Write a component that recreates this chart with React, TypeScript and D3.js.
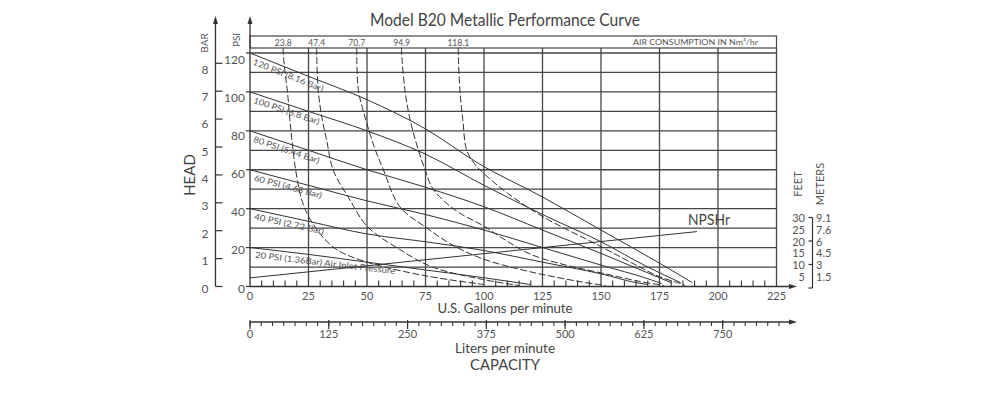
import React from 'react';
import * as d3 from 'd3';

const W = 1000;
const H = 396;
const FONT = 'Lato, "Open Sans", sans-serif';

// axis ticks / labels
const gpmTicks = [0, 25, 50, 75, 100, 125, 150, 175, 200, 225];
const lpmTicks = [0, 125, 250, 375, 500, 625, 750];
const psiTicks = [0, 20, 40, 60, 80, 100, 120];
const barTicks = [0, 1, 2, 3, 4, 5, 6, 7, 8];
const feetLabels = [30, 25, 20, 15, 10, 5];
const meterLabels = ['9.1', '7.6', '6', '4.5', '3', '1.5'];
const feetBracketTicks = [30, 20, 10, 0];

// air inlet pressure curves: [gpm, psi]
const psi120 = [[0, 120], [25, 108], [50, 96], [75, 81], [98, 63], [125, 46], [150, 29], [175, 12], [189, 2]];
const psi100 = [[0, 100], [25, 90], [50, 80], [75, 68], [100, 52], [125, 37], [150, 23], [170, 10], [184, 2]];
const psi80 = [[0, 80], [25, 70], [50, 60], [75, 51], [100, 41], [125, 29], [150, 17], [170, 7], [180, 2]];
const psi60 = [[0, 60], [25, 52], [50, 44], [75, 37], [100, 29], [125, 20], [150, 11], [170, 4], [176, 1.5]];
const psi40 = [[0, 40], [25, 33.5], [50, 27], [75, 23], [100, 18.5], [125, 12.5], [150, 6.5], [165, 2], [170, 1]];
const psi20 = [[0, 20], [25, 16.5], [50, 12.5], [75, 8.5], [100, 4.5], [120, 1]];
const pressureLabels = [
  '120 PSI (8.16 Bar)',
  '100 PSI (6.8 Bar)',
  '80 PSI (5.44 Bar)',
  '60 PSI (4.68 Bar)',
  '40 PSI (2.72 Bar)',
  '20 PSI (1.36Bar) Air Inlet Pressure',
];
const labelLengths = [75, 69, 69, 70, 71, 141];

// air consumption curves (Nm3/hr): [gpm, psi]
const airLabels = ['23.8', '47.4', '70.7', '94.9', '118.1'];
const air238 = [[14.2, 122.6], [14.2, 120], [15, 110], [16, 100], [17.5, 80], [19.5, 60], [22, 45], [25, 36], [30, 27], [37, 19], [50, 12.5], [75, 5.5], [100, 1]];
const air474 = [[28.5, 122.6], [28.5, 120], [29.2, 100], [31, 85], [32.8, 75], [35.5, 60], [42.7, 44.5], [50, 31], [64, 19], [78, 10], [100, 3.5], [115, 0.5]];
const air707 = [[45.6, 122.6], [45.6, 120], [46.3, 101], [48, 92], [49.9, 84], [53, 72], [57, 60], [64, 41], [75, 30.5], [87, 21], [100, 14], [120, 7.5], [141, 2.5], [152, 0.5]];
const air949 = [[64.8, 122.6], [64.8, 120], [66.2, 101], [68, 88], [69.8, 79], [72, 70], [74.8, 60], [78.3, 50], [88, 39], [100, 31], [107, 25.5], [120, 16.5], [135, 11], [150, 7], [167, 2.5], [177, 0.5]];
const air1181 = [[89, 122.6], [89, 120], [89.7, 101], [91, 85], [92.6, 70], [96, 63], [100, 58], [110, 48], [125, 36], [150, 20.5], [165, 11], [175, 5], [184, 1.5], [186, 0.5]];

// NPSHr: [gpm, feet]
const npshr = [[0, 4.3], [191, 24]];

const x = d3.scaleLinear().domain([0, 225]).range([250, 776.5]);
const y = d3.scaleLinear().domain([0, 120]).range([286.5, 53]);
const psiLabelY = d3.scaleLinear().domain([0, 120]).range([288, 59]);
const barY = d3.scaleLinear().domain([0, 8]).range([286.5, 63.3]);
const barLabelY = d3.scaleLinear().domain([0, 8]).range([288, 69]);
const lpm = d3.scaleLinear().domain([0, 750]).range([250, 722.7]);
const feetY = d3.scaleLinear().domain([0, 30]).range([288, 217.5]);

const pressureLine = d3
  .line<number[]>()
  .x((d) => x(d[0]))
  .y((d) => y(d[1]))
  .curve(d3.curveMonotoneX);

const airLine = d3
  .line<number[]>()
  .x((d) => x(d[0]))
  .y((d) => y(d[1]))
  .curve(d3.curveCatmullRom.alpha(0.5));

const npshLine = d3
  .line<number[]>()
  .x((d) => x(d[0]))
  .y((d) => feetY(d[1]));

const GRID = '#454545';
const INK = '#333';
const TXT = '#555';

const Arrow = ({ tipX, tipY, dir }: { tipX: number; tipY: number; dir: 'up' | 'right' }) => {
  const pts =
    dir === 'up'
      ? [[tipX, tipY], [tipX - 2.5, tipY + 8], [tipX + 2.5, tipY + 8]]
      : [[tipX, tipY], [tipX - 8, tipY - 2.5], [tipX - 8, tipY + 2.5]];
  return <polygon points={pts.map((p) => p.join(',')).join(' ')} fill={INK} />;
};

export default function App() {
  const pressures = [psi120, psi100, psi80, psi60, psi40, psi20];
  const airs = [air238, air474, air707, air949, air1181];
  const y0 = y(0);
  const lpmY = 322;

  const minorGpm = d3.range(5, 225, 5).filter((v) => v % 25 !== 0);
  const minorLpm = d3.range(0, 860, 125 / 7).filter((v) => lpm(v) < 788);

  return (
    <svg
      width={W}
      height={H}
      viewBox={`0 0 ${W} ${H}`}
      style={{ position: 'absolute', left: 0, top: 0, background: '#fff', fontFamily: FONT }}
    >
      <rect width={W} height={H} fill="#fff" />

      {/* Title */}
      <text x={505} y={26} textAnchor="middle" fontSize={17} fill="#444" textLength={270} lengthAdjust="spacingAndGlyphs">
        Model B20 Metallic Performance Curve
      </text>

      {/* Air consumption box */}
      <rect x={x(0)} y={36} width={x(225) - x(0)} height={12} fill="none" stroke={GRID} strokeWidth={1.2} />
      {airLabels.map((l, i) => (
        <text key={l} x={x(airs[i][0][0])} y={45.5} textAnchor="middle" fontSize={8.5} fill={TXT}>
          {l}
        </text>
      ))}
      <text x={758} y={45} textAnchor="end" fontSize={7.5} fill={TXT} textLength={125} lengthAdjust="spacingAndGlyphs">
        AIR CONSUMPTION IN Nm³/hr
      </text>

      {/* Grid */}
      {d3.range(10, 121, 10).map((v) => (
        <line key={'h' + v} x1={x(0)} x2={x(225)} y1={y(v)} y2={y(v)} stroke={GRID} strokeWidth={1.3} />
      ))}
      {gpmTicks.slice(1).map((v) => (
        <line key={'v' + v} x1={x(v)} x2={x(v)} y1={48} y2={y0} stroke={GRID} strokeWidth={1.3} />
      ))}

      {/* PSI axis */}
      <line x1={x(0)} x2={x(0)} y1={y0} y2={22} stroke={INK} strokeWidth={1.3} />
      <Arrow tipX={x(0)} tipY={16} dir="up" />
      {psiTicks.map((v) => (
        <g key={'p' + v}>
          <line x1={x(0) - 4} x2={x(0)} y1={y(v)} y2={y(v)} stroke={INK} strokeWidth={1.2} />
          <text x={245} y={psiLabelY(v)} textAnchor="end" dominantBaseline="central" fontSize={12} fill={TXT}>
            {v}
          </text>
        </g>
      ))}
      <text transform={`translate(240,40) rotate(-90)`} textAnchor="middle" fontSize={10} fill={TXT}>
        PSI
      </text>

      {/* BAR axis */}
      <line x1={215.5} x2={215.5} y1={y0} y2={22} stroke={INK} strokeWidth={1.3} />
      <Arrow tipX={215.5} tipY={16} dir="up" />
      {barTicks.map((v) => (
        <g key={'b' + v}>
          <line x1={215.5} x2={222.5} y1={barY(v)} y2={barY(v)} stroke={INK} strokeWidth={1.2} />
          <text x={205} y={barLabelY(v)} textAnchor="middle" dominantBaseline="central" fontSize={12} fill={TXT}>
            {v}
          </text>
        </g>
      ))}
      <text transform={`translate(208,43) rotate(-90)`} textAnchor="middle" fontSize={10} fill={TXT}>
        BAR
      </text>
      <text transform={`translate(195,175) rotate(-90)`} textAnchor="middle" fontSize={15} fill="#444">
        HEAD
      </text>

      {/* GPM axis */}
      <line x1={x(0)} x2={790} y1={y0} y2={y0} stroke={INK} strokeWidth={1.3} />
      <Arrow tipX={797} tipY={y0} dir="right" />
      {minorGpm.map((v) => (
        <line key={'mg' + v} x1={x(v)} x2={x(v)} y1={y0 - 6} y2={y0} stroke={INK} strokeWidth={1.1} />
      ))}
      {gpmTicks.map((v) => (
        <text key={'gl' + v} x={x(v)} y={295} textAnchor="middle" dominantBaseline="central" fontSize={11} fill={TXT}>
          {v}
        </text>
      ))}
      <text x={505} y={313} textAnchor="middle" fontSize={13} fill="#444" textLength={135} lengthAdjust="spacingAndGlyphs">
        U.S. Gallons per minute
      </text>

      {/* LPM axis */}
      <line x1={lpm(0)} x2={790} y1={lpmY} y2={lpmY} stroke={INK} strokeWidth={1.3} />
      <Arrow tipX={797} tipY={lpmY} dir="right" />
      {minorLpm.map((v) => (
        <line key={'ml' + v} x1={lpm(v)} x2={lpm(v)} y1={lpmY} y2={lpmY + 4} stroke={INK} strokeWidth={1.1} />
      ))}
      {lpmTicks.map((v) => (
        <g key={'lt' + v}>
          <line x1={lpm(v)} x2={lpm(v)} y1={lpmY - 2} y2={lpmY + 7} stroke={INK} strokeWidth={1.2} />
          <text x={lpm(v)} y={333.5} textAnchor="middle" dominantBaseline="central" fontSize={11} fill={TXT}>
            {v}
          </text>
        </g>
      ))}
      <text x={505} y={353} textAnchor="middle" fontSize={13} fill="#444" textLength={100} lengthAdjust="spacingAndGlyphs">
        Liters per minute
      </text>
      <text x={505} y={370} textAnchor="middle" fontSize={16} fill="#444" textLength={70} lengthAdjust="spacingAndGlyphs">
        CAPACITY
      </text>

      {/* Air consumption curves */}
      {airs.map((d, i) => (
        <path key={'a' + i} d={airLine(d) || ''} fill="none" stroke={INK} strokeWidth={1} strokeDasharray="7,2.5" />
      ))}

      {/* Pressure curves */}
      {pressures.map((d, i) => {
        const g0 = 2.5;
        const p0 = d[0][1] + ((d[1][1] - d[0][1]) * g0) / (d[1][0] - d[0][0]);
        const ang =
          (Math.atan2(y(d[1][1]) - y(d[0][1]), x(d[1][0]) - x(d[0][0])) * 180) / Math.PI;
        return (
          <g key={'pc' + i}>
            <path d={pressureLine(d) || ''} fill="none" stroke={INK} strokeWidth={1} />
            <text
              transform={`translate(${x(g0)},${y(p0)}) rotate(${ang})`}
              y={9.5}
              fontSize={8.5}
              fill={TXT}
              textLength={labelLengths[i]}
              lengthAdjust="spacingAndGlyphs"
            >
              {pressureLabels[i]}
            </text>
          </g>
        );
      })}

      {/* NPSHr */}
      <path d={npshLine(npshr) || ''} fill="none" stroke={INK} strokeWidth={1} />
      <text x={688} y={225} fontSize={15} fill="#444" textLength={42} lengthAdjust="spacingAndGlyphs">
        NPSHr
      </text>

      {/* Feet / meters scale */}
      <line x1={812.5} x2={812.5} y1={feetY(30)} y2={feetY(0)} stroke={INK} strokeWidth={1.2} />
      {feetBracketTicks.map((v) => (
        <line key={'fb' + v} x1={808.5} x2={812.5} y1={feetY(v)} y2={feetY(v)} stroke={INK} strokeWidth={1.2} />
      ))}
      {feetLabels.map((v, i) => (
        <g key={'f' + v}>
          <text x={805} y={feetY(v)} textAnchor="end" dominantBaseline="central" fontSize={11} fill={TXT}>
            {v}
          </text>
          <text x={816} y={feetY(v)} dominantBaseline="central" fontSize={11} fill={TXT}>
            {meterLabels[i]}
          </text>
        </g>
      ))}
      <text transform={`translate(802,184) rotate(-90)`} textAnchor="middle" fontSize={11} fill={TXT}>
        FEET
      </text>
      <text transform={`translate(824,184) rotate(-90)`} textAnchor="middle" fontSize={11} fill={TXT}>
        METERS
      </text>
    </svg>
  );
}
